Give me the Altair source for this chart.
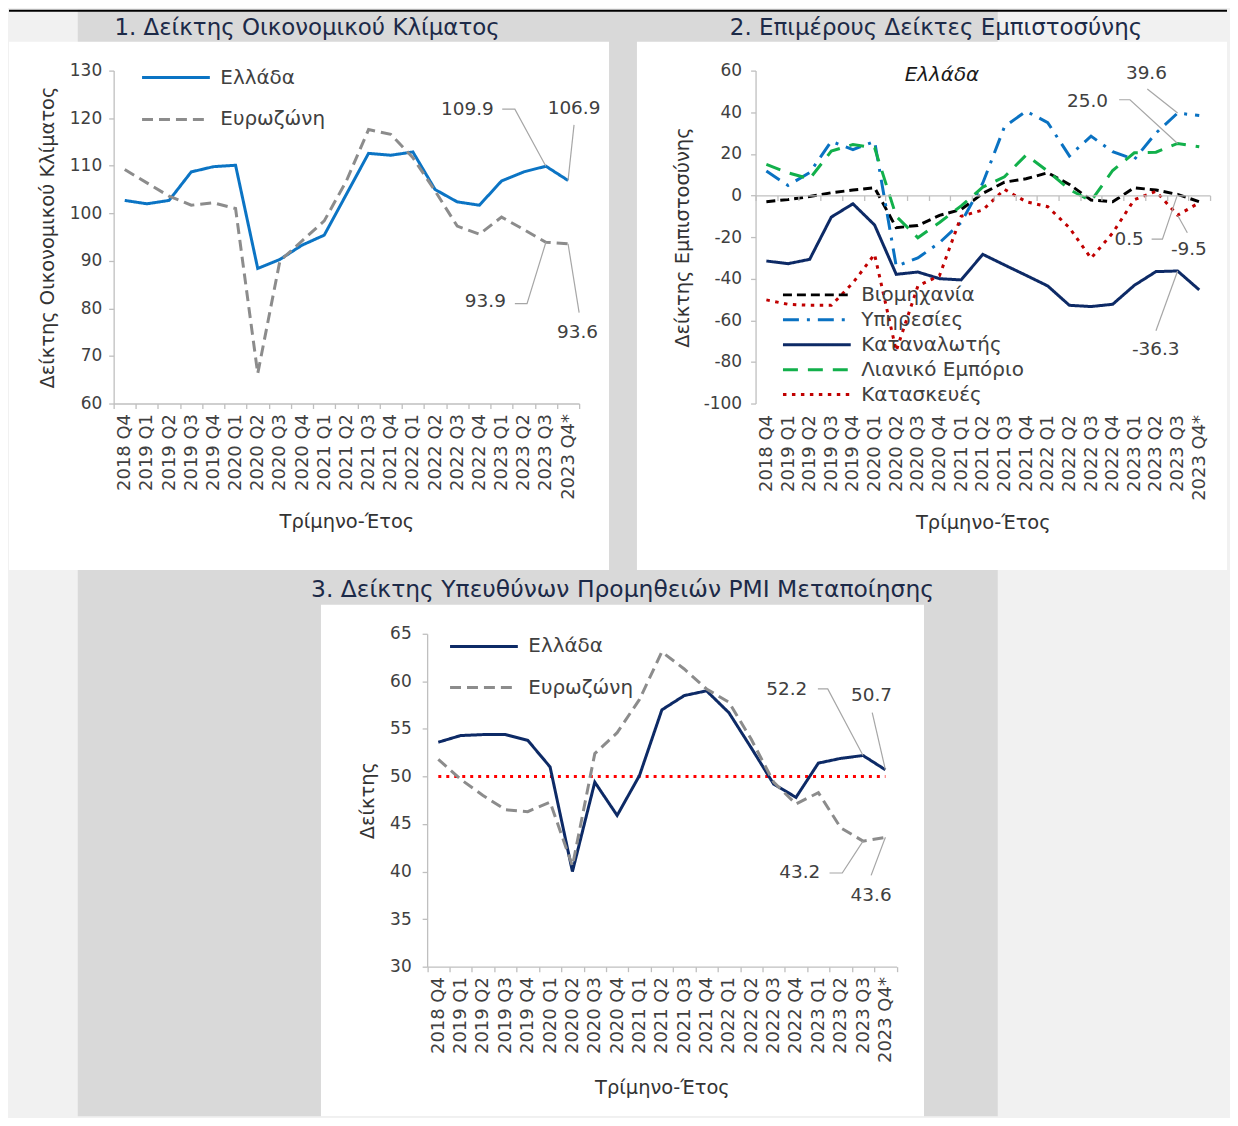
import altair as alt
import pandas as pd

# ---------------- data ----------------
quarters = ["2018 Q4", "2019 Q1", "2019 Q2", "2019 Q3", "2019 Q4", "2020 Q1", "2020 Q2",
            "2020 Q3", "2020 Q4", "2021 Q1", "2021 Q2", "2021 Q3", "2021 Q4", "2022 Q1",
            "2022 Q2", "2022 Q3", "2022 Q4", "2023 Q1", "2023 Q2", "2023 Q3", "2023 Q4*"]

esi_names = ["Ελλάδα", "Ευρωζώνη"]
esi_greece = [102.7, 102.0, 102.7, 108.7, 109.8, 110.1, 88.4, 90.3, 93.3, 95.4, 104.0,
              112.6, 112.2, 112.9, 105.0, 102.4, 101.7, 106.8, 108.7, 109.9, 106.9]
esi_ez = [109.2, 106.4, 103.6, 101.7, 102.2, 101.0, 66.3, 90.0, 94.2, 98.4, 106.8,
          117.6, 116.6, 111.7, 104.7, 97.3, 95.6, 99.2, 96.6, 93.9, 93.6]

conf_names = ["Βιομηχανία", "Υπηρεσίες", "Καταναλωτής", "Λιανικό Εμπόριο", "Κατασκευές"]
conf_industry = [-3.0, -2.0, -0.5, 1.3, 2.6, 3.7, -15.5, -14.4, -9.6, -6.7, 1.0,
                 6.4, 8.0, 10.9, 5.3, -2.2, -3.0, 3.7, 2.6, 0.5, -3.0]
conf_services = [11.7, 4.8, 11.0, 26.0, 22.0, 26.0, -34.0, -30.0, -22.7, -13.0, 6.0,
                 33.0, 40.5, 35.0, 19.0, 28.5, 21.0, 17.3, 30.0, 39.6, 38.4]
conf_consumer = [-31.5, -32.8, -30.7, -10.4, -4.0, -14.2, -37.9, -36.8, -40.0, -40.6, -28.3,
                 -33.4, -38.4, -43.5, -52.8, -53.4, -52.3, -43.2, -36.6, -36.3, -45.4]
conf_retail = [14.9, 10.9, 8.0, 21.3, 24.5, 22.9, -10.0, -20.3, -13.0, -5.0, 4.0,
               9.0, 19.4, 11.7, 2.9, -2.7, 12.0, 20.5, 20.8, 25.0, 23.4]
conf_construction = [-50.2, -52.3, -52.8, -52.8, -42.0, -28.3, -74.7, -43.5, -38.5, -10.0, -7.0,
                     2.9, -3.0, -5.4, -15.5, -30.2, -18.0, -2.0, 2.0, -9.5, -3.5]

pmi_names = ["Ελλάδα", "Ευρωζώνη"]
pmi_greece = [53.6, 54.3, 54.4, 54.4, 53.8, 51.0, 40.0, 49.4, 45.9, 50.1, 57.0,
              58.5, 59.0, 56.7, 53.0, 49.2, 47.8, 51.4, 51.9, 52.2, 50.7]
pmi_ez = [51.8, 49.7, 48.0, 46.5, 46.3, 47.3, 40.6, 52.4, 54.6, 58.1, 63.1,
          61.3, 59.2, 57.8, 53.9, 49.4, 47.1, 48.3, 44.6, 43.2, 43.6]
pmi_threshold = 50

# data labels (text, anchor position in data units)
esi_label_text = ["109.9", "106.9", "93.9", "93.6"]
esi_label_x = [15.46, 20.27, 16.27, 20.43]
esi_label_y = [121.9, 122.1, 81.6, 75.1]
esi_leader_x = [[17.03, 17.6, 19], [20.27, 20], [17.6, 18.15, 19], [20.5, 20]]
esi_leader_y = [[121.9, 121.9, 109.9], [118.6, 106.9], [81.0, 81.0, 93.9], [79.1, 93.6]]

conf_label_text = ["39.6", "25.0", "0.5", "-9.5", "-36.3"]
conf_label_x = [17.56, 14.84, 16.76, 19.52, 17.99]
conf_label_y = [58.7, 45.6, -21.0, -25.9, -73.8]
conf_leader_x = [[17.6, 19], [16.3, 16.8, 19], [17.8, 18.3, 19], [19.45, 19], [18.0, 19]]
conf_leader_y = [[51.2, 39.6], [46.0, 46.0, 25.0], [-21.0, -21.0, 0.5], [-17.9, -9.5], [-65.0, -36.3]]

pmi_label_text = ["52.2", "50.7", "43.2", "43.6"]
pmi_label_x = [15.59, 19.38, 16.17, 19.36]
pmi_label_y = [59.2, 58.6, 39.9, 37.5]
pmi_leader_x = [[16.98, 17.42, 19], [19.41, 20], [17.5, 18.07, 19], [19.36, 20]]
pmi_leader_y = [[59.2, 59.2, 52.2], [56.7, 50.7], [39.85, 39.85, 43.2], [39.6, 43.6]]

# ---------------- style / layout ----------------
FONT = "DejaVu Sans"
TXT = "#404040"
AXC = "#bfbfbf"
TITLE_C = "#1c2a48"
LEAD_C = "#a6a6a6"
n = len(quarters)
tick_vals = [k - 0.5 for k in range(n + 1)]
label_arr = "[" + ",".join("'" + q + "'" for q in quarters) + "]"
label_expr = "datum.value > " + str(n - 1) + " ? '' : " + label_arr + "[round(datum.value + 0.5)]"
one = pd.DataFrame({"k": [0]})

PH = 334                     # plot height of each panel
TOTAL_W, TOTAL_H = 1100, 899
# panel plot areas inside the single view: (x0, x1, y_top, y_bottom)
A1 = (0, 467, 0, PH)
A2 = (644, 1100, 0, PH)
A3 = (314.5, 785.5, 565, 565 + PH)


def long_df(names, series):
    rows = []
    for name, vals in zip(names, series):
        for i, v in enumerate(vals):
            rows.append({"i": i, "q": quarters[i], "s": name, "v": v})
    return pd.DataFrame(rows)


def label_df(texts, xs, ys):
    return pd.DataFrame({"t": texts, "x": xs, "y": ys})


def leader_df(xs, ys):
    rows = []
    for g, (lx, ly) in enumerate(zip(xs, ys)):
        for o, (a, b) in enumerate(zip(lx, ly)):
            rows.append({"g": g, "o": o, "x": a, "y": b})
    return pd.DataFrame(rows)


def xscale(area):
    return alt.Scale(domain=[-0.5, n - 0.5], nice=False, zero=False, range=[area[0], area[1]])


def yscale(dom, area):
    return alt.Scale(domain=dom, nice=False, zero=False, range=[area[3], area[2]])


def x_axis(area, ticks=True, pad=5, offset=0.0, tpad=13):
    step = (area[1] - area[0]) / n
    return alt.Axis(values=tick_vals, labelExpr=label_expr, labelAngle=270, labelOffset=step / 2,
                    labelFontSize=18, labelFont=FONT, labelColor=TXT, labelPadding=pad,
                    labelOverlap=False, labelFlush=False, labelBound=False,
                    ticks=ticks, domain=ticks, tickSize=5, tickColor=AXC, tickWidth=1.3,
                    domainColor=AXC, domainWidth=1.3, grid=False, orient="bottom",
                    offset=offset,
                    title="Τρίμηνο-Έτος", titleFont=FONT, titleFontSize=19.5, titleColor="#333333",
                    titleFontWeight="normal", titlePadding=tpad, zindex=1)


def y_axis(vals, title, tpad, lpad, area):
    return alt.Axis(values=vals, labelExpr="datum.value + ''", labelFontSize=17, labelFont=FONT,
                    labelColor=TXT, labelPadding=lpad, tickSize=5, tickColor=AXC, tickWidth=1.3,
                    domainColor=AXC, domainWidth=1.3, grid=False, title=title, titleFont=FONT,
                    titleFontSize=19.5, titleColor="#333333", titleFontWeight="normal",
                    titlePadding=tpad, orient="left", offset=-area[0], zindex=1)


def legend(lx, ly, rowpad):
    return alt.Legend(orient="none", legendX=lx, legendY=ly, title=None, symbolType="stroke",
                      symbolSize=68 * 68, symbolStrokeWidth=3, labelFontSize=20, labelFont=FONT,
                      labelColor=TXT, labelOffset=9, labelLimit=400, rowPadding=rowpad,
                      clipHeight=25, padding=0, zindex=1)


def rect(x, x2, y, y2, color):
    return alt.Chart(one).mark_rect(color=color).encode(
        x=alt.value(x), x2=alt.value(x2), y=alt.value(y), y2=alt.value(y2))


def text_at(txt, x, y, size, color, style="normal", baseline="alphabetic"):
    return alt.Chart(one).mark_text(text=txt, fontSize=size, font=FONT, color=color,
                                    fontStyle=style, align="center", baseline=baseline).encode(
        x=alt.value(x), y=alt.value(y))


def lines(df, names, colors, dashes, xs, xax, ys, yax, leg, width=3):
    return alt.Chart(df).mark_line(strokeWidth=width).encode(
        x=alt.X("i:Q", scale=xs, axis=xax),
        y=alt.Y("v:Q", scale=ys, axis=yax),
        color=alt.Color("s:N", scale=alt.Scale(domain=names, range=colors), legend=leg),
        strokeDash=alt.StrokeDash("s:N", scale=alt.Scale(domain=names, range=dashes), legend=leg),
    )


def labels(df, xs, ys):
    return alt.Chart(df).mark_text(fontSize=18.5, font=FONT, color=TXT).encode(
        x=alt.X("x:Q", scale=xs, axis=None),
        y=alt.Y("y:Q", scale=ys, axis=None),
        text="t:N")


def leaders(df, xs, ys, xax=None):
    return alt.Chart(df).mark_line(color=LEAD_C, strokeWidth=1.2).encode(
        x=alt.X("x:Q", scale=xs, axis=xax),
        y=alt.Y("y:Q", scale=ys, axis=None),
        detail="g:N", order="o:Q")


# ---------------- panel 1 ----------------
xs1 = xscale(A1)
ys1 = yscale([60, 130], A1)
df1 = long_df(esi_names, [esi_greece, esi_ez])
p1 = alt.layer(
    lines(df1, esi_names, ["#0b74c4", "#8c8c8c"], [[1, 0], [11, 6]],
          xs1, x_axis(A1, offset=-(TOTAL_H - A1[3])), ys1,
          y_axis(list(range(60, 131, 10)), "Δείκτης Οικονομικού Κλίματος", 12, 7, A1),
          legend(A1[0] + 27, A1[2] - 5.5, 17)),
    leaders(leader_df(esi_leader_x, esi_leader_y), xs1, ys1),
    labels(label_df(esi_label_text, esi_label_x, esi_label_y), xs1, ys1),
).resolve_axis(x="independent", y="independent")

# ---------------- panel 2 ----------------
xs2 = xscale(A2)
ys2 = yscale([-100, 60], A2)
df2 = long_df(conf_names, [conf_industry, conf_services, conf_consumer, conf_retail, conf_construction])
zero_axis = alt.Axis(values=tick_vals, labels=False, title=None, orient="bottom",
                     offset=-(TOTAL_H - A2[3]) - PH * 100 / 160, tickSize=5, tickColor=AXC,
                     tickWidth=1.3, domainColor=AXC, domainWidth=1.3, grid=False, zindex=1)
p2 = alt.layer(
    lines(df2, conf_names, ["#000000", "#0a72c2", "#0d2a66", "#12b04b", "#c00000"],
          [[9, 5], [16, 8, 3, 8], [1, 0], [15, 10], [3.5, 5.5]],
          xs2, x_axis(A2, ticks=False, pad=11, offset=-(TOTAL_H - A2[3])), ys2,
          y_axis(list(range(-100, 61, 20)), "Δείκτης Εμπιστοσύνης", 11, 9, A2),
          legend(A2[0] + 26, A2[2] + 212.5, 0)),
    leaders(leader_df(conf_leader_x, conf_leader_y), xs2, ys2, xax=zero_axis),
    labels(label_df(conf_label_text, conf_label_x, conf_label_y), xs2, ys2),
).resolve_axis(x="independent", y="independent")

# ---------------- panel 3 ----------------
xs3 = xscale(A3)
ys3 = yscale([30, 65], A3)
df3 = long_df(pmi_names, [pmi_greece, pmi_ez])
ref3 = alt.Chart(pd.DataFrame({"x": [0], "x2": [n - 1], "y": [pmi_threshold]})).mark_rule(
    color="#ff0000", strokeWidth=3, strokeDash=[3, 5]).encode(
    x=alt.X("x:Q", scale=xs3, axis=None), x2="x2:Q",
    y=alt.Y("y:Q", scale=ys3, axis=None))
p3 = alt.layer(
    ref3,
    lines(df3, pmi_names, ["#0d2a66", "#8c8c8c"], [[1, 0], [11, 6]],
          xs3, x_axis(A3, offset=-(TOTAL_H - A3[3]), tpad=16), ys3,
          y_axis(list(range(30, 66, 5)), "Δείκτης", 12, 11, A3),
          legend(A3[0] + 21.5, A3[2] + 0.2, 16.3)),
    leaders(leader_df(pmi_leader_x, pmi_leader_y), xs3, ys3),
    labels(label_df(pmi_label_text, pmi_label_x, pmi_label_y), xs3, ys3),
).resolve_axis(x="independent", y="independent")

# ---------------- page decorations ----------------
decor = [
    rect(-36, 887, -61, 1049, "#d9d9d9"),
    alt.Chart(one).mark_rule(color="black", strokeWidth=2).encode(
        x=alt.value(-105), x2=alt.value(1117), y=alt.value(-60)),
    rect(-105, 497, -29, 501, "white"),
    rect(525, 1117, -29, 501, "white"),
    rect(208, 813, 536, 1049, "white"),
    text_at("1. Δείκτης Οικονομικού Κλίματος", 194, -36, 23, TITLE_C),
    text_at("2. Επιμέρους Δείκτες Εμπιστοσύνης", 825, -36, 23, TITLE_C),
    text_at("3. Δείκτης Υπευθύνων Προμηθειών PMI Μεταποίησης", 510.5, 528, 23.5, TITLE_C),
    text_at("Ελλάδα", 831, 4, 20, "#1a1a1a", style="italic", baseline="middle"),
]

chart = alt.layer(*decor, p1, p2, p3).resolve_scale(
    x="independent", y="independent", color="independent", strokeDash="independent"
).resolve_axis(x="independent", y="independent").properties(
    width=TOTAL_W, height=TOTAL_H, background="#f1f1f1", padding=0
).configure_view(strokeWidth=0)

chart.save("out.html", embed_options={"renderer": "svg", "actions": False})
